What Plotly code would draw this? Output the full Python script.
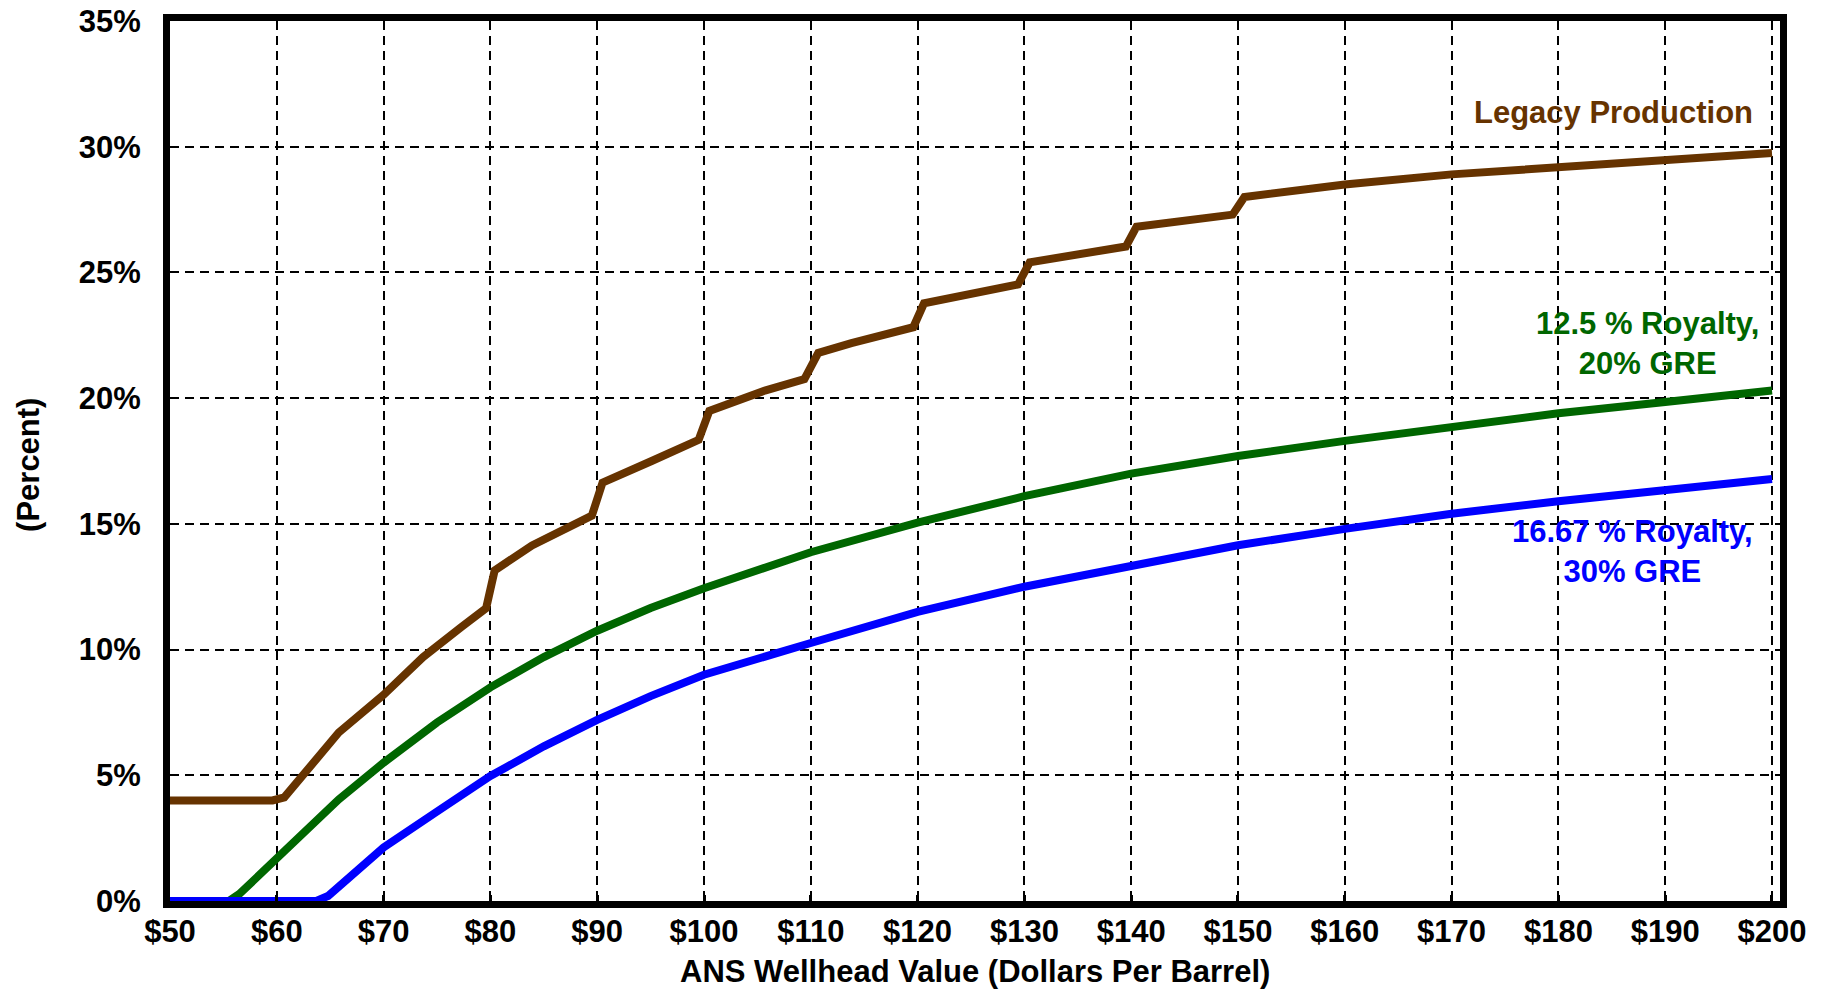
import plotly.graph_objects as go

# ---- data ----
legacy_x = [50, 59.6, 60.7, 63, 65.8, 70, 73.7, 77.3, 79.6,
            80.4, 83.9, 89.5, 90.5, 95.1, 99.5, 100.5, 105.7, 109.4,
            110.7, 113.8, 119.6, 120.6, 125, 129.4, 130.5, 135, 139.5,
            140.5, 145, 149.5, 150.6, 155.9, 160, 170, 180, 190, 200]
legacy_y = [4.0, 4.0, 4.12, 5.23, 6.7, 8.2, 9.7, 10.9, 11.65,
            13.15, 14.14, 15.33, 16.64, 17.5, 18.34, 19.49, 20.3, 20.76,
            21.8, 22.19, 22.82, 23.77, 24.18, 24.52, 25.4, 25.75, 26.03,
            26.82, 27.08, 27.3, 28.0, 28.29, 28.5, 28.9, 29.2, 29.5, 29.75]

green_x = [50, 55.5, 56.5, 60, 63, 65.8, 70, 75, 80, 85, 90, 95, 100,
           110, 120, 130, 140, 150, 160, 170, 180, 190, 200]
green_y = [0, 0, 0.28, 1.73, 2.97, 4.04, 5.5, 7.1, 8.5, 9.7, 10.75, 11.65, 12.44,
           13.87, 15.05, 16.1, 17.0, 17.7, 18.3, 18.85, 19.4, 19.85, 20.3]

blue_x = [50, 63.7, 64.8, 70, 74.8, 80, 85, 90, 95, 100, 110, 120,
          130, 140, 150, 160, 170, 180, 190, 200]
blue_y = [0, 0, 0.2, 2.13, 3.5, 4.97, 6.15, 7.2, 8.15, 9.0, 10.26, 11.5,
          12.5, 13.35, 14.15, 14.8, 15.4, 15.9, 16.35, 16.78]

x_ticks = list(range(50, 201, 10))
x_tick_text = ["$" + str(v) for v in x_ticks]
y_ticks = list(range(0, 36, 5))
y_tick_text = [str(v) + "%" for v in y_ticks]

BROWN = "#663300"
GREEN = "#006600"
BLUE = "#0000FF"
FONT = "Liberation Sans, Arial, sans-serif"
FS = 31

fig = go.Figure()
fig.add_trace(go.Scatter(x=legacy_x, y=legacy_y, mode="lines",
                         line=dict(color=BROWN, width=8), hoverinfo="skip"))
fig.add_trace(go.Scatter(x=green_x, y=green_y, mode="lines",
                         line=dict(color=GREEN, width=8), hoverinfo="skip"))
fig.add_trace(go.Scatter(x=blue_x, y=blue_y, mode="lines",
                         line=dict(color=BLUE, width=8), hoverinfo="skip"))

fig.update_layout(
    template="none",
    width=1825, height=994,
    margin=dict(l=170, r=45, t=21, b=93, autoexpand=False),
    paper_bgcolor="white", plot_bgcolor="white",
    showlegend=False,
    font=dict(family=FONT, size=FS, color="black"),
)

fig.update_xaxes(
    range=[50, 200.75], tickmode="array", tickvals=x_ticks, ticktext=x_tick_text,
    showgrid=True, gridcolor="black", gridwidth=2, griddash="9px,6px",
    showline=True, linecolor="black", linewidth=7, mirror=True,
    ticks="inside", ticklen=6, tickwidth=3, tickcolor="black",
    tickfont=dict(family=FONT, size=FS, color="black", weight="bold"),
    zeroline=False, ticklabelstandoff=-3, automargin=False,
    ticklabeloverflow="allow",
)
fig.update_yaxes(
    range=[0, 35], tickmode="array", tickvals=y_ticks, ticktext=y_tick_text,
    showgrid=True, gridcolor="black", gridwidth=2, griddash="9px,6px",
    showline=True, linecolor="black", linewidth=7, mirror=True,
    ticks="", tickfont=dict(family=FONT, size=FS, color="black", weight="bold"),
    zeroline=False, ticklabelstandoff=16, automargin=False,
    ticklabeloverflow="allow",
)

annos = [
    dict(text="<b>Legacy Production</b>", x=198.4, y=31.35, xref="x", yref="y",
         xanchor="right", yanchor="middle", font=dict(color=BROWN)),
    dict(text="<b>12.5 % Royalty,</b><br><b>20% GRE</b>", x=188.3, y=22.18,
         xref="x", yref="y", xanchor="center", yanchor="middle",
         align="center", font=dict(color=GREEN)),
    dict(text="<b>16.67 % Royalty,</b><br><b>30% GRE</b>", x=186.9, y=13.9,
         xref="x", yref="y", xanchor="center", yanchor="middle",
         align="center", font=dict(color=BLUE)),
    dict(text="<b>ANS Wellhead Value (Dollars Per Barrel)</b>", x=0.5, y=-0.0805,
         xref="paper", yref="paper", xanchor="center", yanchor="middle",
         font=dict(color="black")),
    dict(text="<b>(Percent)</b>", x=-0.0876, y=0.4955, xref="paper", yref="paper",
         xanchor="center", yanchor="middle", textangle=-90,
         font=dict(color="black")),
]
for a in annos:
    a["showarrow"] = False
    a["font"].update(family=FONT, size=FS)
    fig.add_annotation(**a)

fig.write_html(
    "out.html",
    config={"displayModeBar": False, "staticPlot": True},
    post_script="document.body.style.margin='0';document.body.style.overflow='hidden';",
)
